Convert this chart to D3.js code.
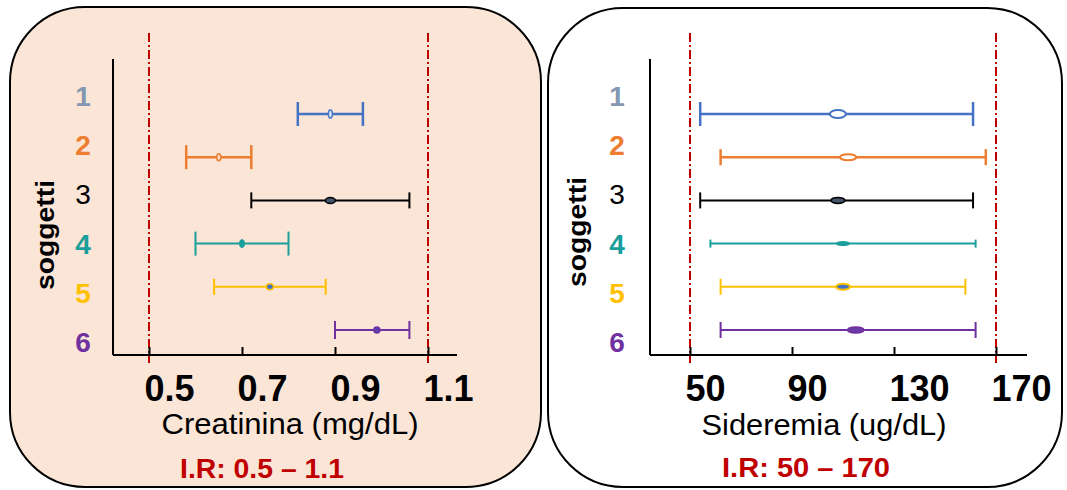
<!DOCTYPE html>
<html>
<head>
<meta charset="utf-8">
<script src="https://cdn.jsdelivr.net/npm/d3@7"></script>
<style>
  body { margin: 0; background: #fff; }
  text { font-family: "Liberation Sans", Arial, sans-serif; }
</style>
</head>
<body>
<svg width="1067" height="490"></svg>
<script>
// subjects and their colours
const subjects = ["1", "2", "3", "4", "5", "6"];
const subjectColors = ["#4472C4", "#ED7D31", "#000000", "#1A9E9B", "#FFC000", "#7030A0"];
const labelColors = ["#8497B0", "#ED7D31", "#000000", "#1A9E9B", "#FFC000", "#7030A0"];

// creatinina (mg/dL): min, mean, max per subject
const creaLow = [0.82, 0.58, 0.72, 0.60, 0.64, 0.90];
const creaMean = [0.89, 0.65, 0.89, 0.70, 0.76, 0.99];
const creaHigh = [0.96, 0.72, 1.06, 0.80, 0.88, 1.06];
const creaTicks = [0.5, 0.7, 0.9, 1.1];
const creaRange = [0.5, 1.1];

// sideremia (ug/dL): min, mean, max per subject
const siderLow = [54, 62, 54, 58, 62, 62];
const siderMean = [108, 112, 108, 110, 110, 115];
const siderHigh = [161, 166, 161, 162, 158, 162];
const siderTicks = [50, 90, 130, 170];
const siderRange = [50, 170];

let svg = d3.select("svg");

function drawPanel(cfg) {
    let g = svg.append("g");

    // rounded background box
    g.append("rect")
        .attr("x", cfg.box[0]).attr("y", cfg.box[1])
        .attr("width", cfg.box[2]).attr("height", cfg.box[3])
        .attr("rx", 75).attr("ry", 75)
        .attr("fill", cfg.bg)
        .attr("stroke", "black")
        .attr("stroke-width", 2);

    let x = d3.scaleLinear().domain(cfg.range).range(cfg.xRange);
    let yLabel = d3.scalePoint().domain(subjects).range([96, 342]);
    let yBar = d3.scalePoint().domain(subjects).range([114, 330]);

    // reference interval lines
    g.selectAll(".ref")
        .data(cfg.range)
        .enter().append("line")
        .attr("x1", d => x(d)).attr("x2", d => x(d))
        .attr("y1", 33).attr("y2", 363)
        .attr("stroke", "#C00000")
        .attr("stroke-width", 2)
        .attr("stroke-dasharray", "9,3,2,3");

    // axes lines
    g.append("line")
        .attr("x1", cfg.axisX).attr("x2", cfg.axisX)
        .attr("y1", 59).attr("y2", 355)
        .attr("stroke", "black").attr("stroke-width", 2);
    g.append("line")
        .attr("x1", cfg.axisX).attr("x2", cfg.axisEnd)
        .attr("y1", 355).attr("y2", 355)
        .attr("stroke", "black").attr("stroke-width", 2);

    // x axis ticks and labels
    let ax = g.append("g")
        .attr("transform", "translate(0,355)")
        .call(d3.axisBottom(x).tickValues(cfg.ticks).tickSizeInner(-8).tickSizeOuter(0)
            .tickFormat(d3.format("")));
    ax.select(".domain").remove();
    ax.selectAll(".tick line").attr("stroke", "black").attr("stroke-width", 2);
    ax.selectAll(".tick text")
        .attr("y", 46).attr("dy", 0).attr("dx", -5)
        .attr("text-anchor", "start")
        .attr("font-family", "Liberation Sans, Arial, sans-serif")
        .attr("font-size", 36)
        .attr("font-weight", "bold")
        .attr("fill", "black");

    // subject labels
    g.selectAll(".subj")
        .data(subjects)
        .enter().append("text")
        .attr("x", cfg.labelX)
        .attr("y", d => yLabel(d))
        .attr("dy", "0.36em")
        .attr("text-anchor", "middle")
        .attr("font-size", 28)
        .attr("font-weight", d => d == "3" ? "normal" : "bold")
        .attr("fill", (d, i) => labelColors[i])
        .text(d => d);

    // y title
    g.append("text")
        .attr("transform", "translate(" + cfg.titleX + "," + cfg.titleY + ") rotate(-90)")
        .attr("text-anchor", "middle")
        .attr("dy", "0.35em")
        .attr("font-size", 26)
        .attr("font-weight", "bold")
        .attr("textLength", 110)
        .attr("lengthAdjust", "spacingAndGlyphs")
        .text("soggetti");

    // error bars
    let rows = subjects.map((s, i) => ({
        s: s, low: cfg.low[i], mean: cfg.mean[i], high: cfg.high[i],
        color: subjectColors[i], cap: cfg.caps[i], w: cfg.widths[i], m: cfg.markers[i]
    }));
    let bar = g.selectAll(".bar")
        .data(rows)
        .enter().append("g")
        .attr("transform", d => "translate(0," + yBar(d.s) + ")");
    bar.append("line")
        .attr("x1", d => x(d.low)).attr("x2", d => x(d.high))
        .attr("stroke", d => d.color).attr("stroke-width", d => d.w);
    bar.append("line")
        .attr("x1", d => x(d.low)).attr("x2", d => x(d.low))
        .attr("y1", d => -d.cap).attr("y2", d => d.cap)
        .attr("stroke", d => d.color).attr("stroke-width", d => d.w);
    bar.append("line")
        .attr("x1", d => x(d.high)).attr("x2", d => x(d.high))
        .attr("y1", d => -d.cap).attr("y2", d => d.cap)
        .attr("stroke", d => d.color).attr("stroke-width", d => d.w);
    bar.append("ellipse")
        .attr("cx", d => x(d.mean))
        .attr("rx", d => d.m.rx).attr("ry", d => d.m.ry)
        .attr("fill", d => d.m.fill)
        .attr("stroke", d => d.m.stroke)
        .attr("stroke-width", d => d.m.sw);

    // axis title and reference interval
    g.append("text")
        .attr("x", cfg.titlePos[0]).attr("y", cfg.titlePos[1])
        .attr("text-anchor", "middle")
        .attr("font-size", 29)
        .attr("textLength", cfg.titleLen)
        .attr("lengthAdjust", "spacingAndGlyphs")
        .text(cfg.title);
    g.append("text")
        .attr("x", cfg.irPos[0]).attr("y", cfg.irPos[1])
        .attr("text-anchor", "middle")
        .attr("font-size", 27)
        .attr("font-weight", "bold")
        .attr("fill", "#C00000")
        .attr("textLength", cfg.irLen)
        .attr("lengthAdjust", "spacingAndGlyphs")
        .text(cfg.ir);
}

drawPanel({
    box: [10, 7, 531, 480], bg: "#FBE5D6",
    range: creaRange, ticks: creaTicks, xRange: [149, 428],
    axisX: 113, axisEnd: 457, labelX: 83, titleX: 45, titleY: 235,
    low: creaLow, mean: creaMean, high: creaHigh,
    caps: [12, 12, 8, 12, 8, 9],
    widths: [2.5, 2.5, 2, 2, 2, 2],
    markers: [
        { rx: 2, ry: 4, fill: "#DAE3F3", stroke: "#4472C4", sw: 1.5 },
        { rx: 2, ry: 3.5, fill: "#FBE5D6", stroke: "#ED7D31", sw: 1.5 },
        { rx: 5, ry: 3, fill: "#44546A", stroke: "#000000", sw: 1.5 },
        { rx: 2.5, ry: 4, fill: "#1A9E9B", stroke: "#1A9E9B", sw: 1 },
        { rx: 3.5, ry: 3, fill: "#4472C4", stroke: "#FFC000", sw: 1.5 },
        { rx: 3, ry: 3, fill: "#5B3FB0", stroke: "#7030A0", sw: 1.5 }
    ],
    title: "Creatinina (mg/dL)", titlePos: [290, 434], titleLen: 257,
    ir: "I.R: 0.5 \u2013 1.1", irPos: [262, 478], irLen: 164
});

drawPanel({
    box: [548, 8, 514, 479], bg: "#FFFFFF",
    range: siderRange, ticks: siderTicks, xRange: [690, 996],
    axisX: 650, axisEnd: 1027, labelX: 617, titleX: 577, titleY: 232,
    low: siderLow, mean: siderMean, high: siderHigh,
    caps: [12, 8, 8, 4, 8, 8],
    widths: [2.5, 2.5, 2, 2, 2, 2],
    markers: [
        { rx: 8, ry: 4, fill: "#FFFFFF", stroke: "#4472C4", sw: 2 },
        { rx: 8, ry: 3, fill: "#FFFFFF", stroke: "#ED7D31", sw: 2 },
        { rx: 7, ry: 3, fill: "#44546A", stroke: "#000000", sw: 1.5 },
        { rx: 7, ry: 2, fill: "#1A9E9B", stroke: "#1A9E9B", sw: 1 },
        { rx: 7, ry: 3, fill: "#4472C4", stroke: "#FFC000", sw: 2 },
        { rx: 8, ry: 3, fill: "#6A3AA8", stroke: "#7030A0", sw: 1.5 }
    ],
    title: "Sideremia (ug/dL)", titlePos: [824, 435], titleLen: 245,
    ir: "I.R: 50 \u2013 170", irPos: [806, 477], irLen: 168
});
</script>
</body>
</html>
